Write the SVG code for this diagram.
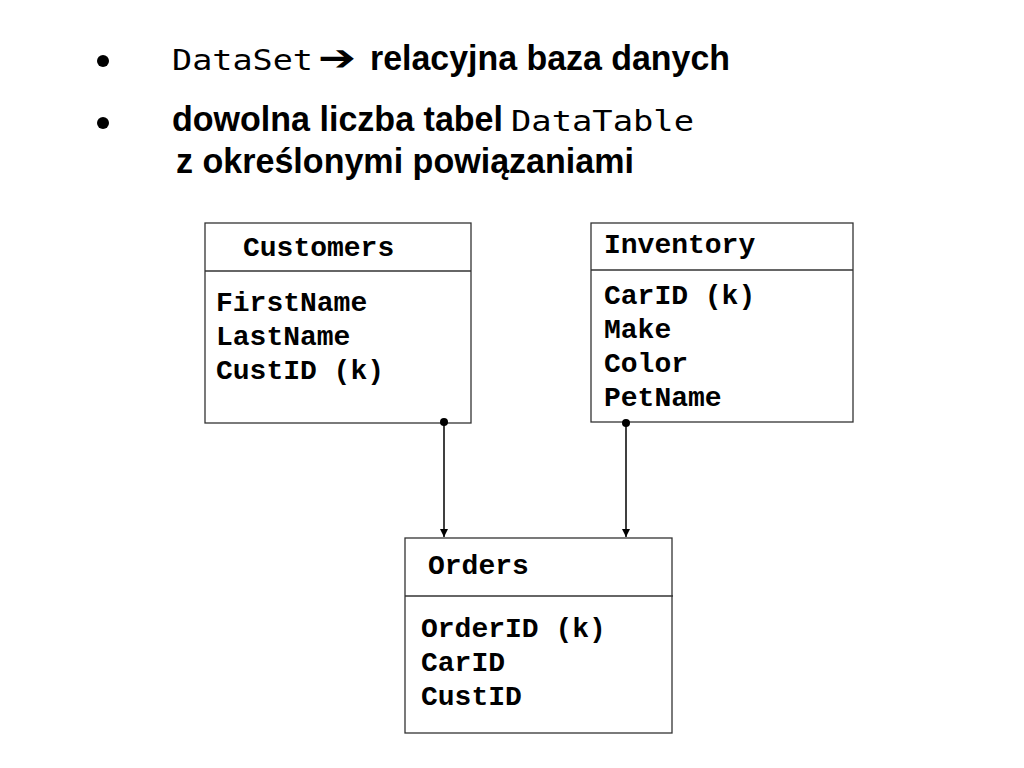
<svg xmlns="http://www.w3.org/2000/svg" width="1024" height="768" viewBox="0 0 1024 768">
<style>
.box{fill:#fff;stroke:#333;stroke-width:1.3}
.div{stroke:#333;stroke-width:1.3}
.f{font-family:"Liberation Mono","Courier New",monospace;font-weight:bold;font-size:28px;fill:#000}
.s{font-family:"Liberation Sans Narrow","Liberation Sans",Arial,sans-serif;font-weight:bold;font-size:35px;fill:#000}
.m{font-family:"DejaVu Sans Mono","Liberation Mono",monospace;font-size:28px;fill:#000}
.con{stroke:#000;stroke-width:1.5;fill:none;marker-start:url(#dot);marker-end:url(#arr)}
</style>
<defs>
<marker id="arr" viewBox="0 0 10 10" refX="10" refY="5" markerWidth="8" markerHeight="8" markerUnits="userSpaceOnUse" orient="auto"><path d="M0,0 L10,5 L0,10 z" fill="#000"/></marker>
<marker id="dot" viewBox="0 0 10 10" refX="5" refY="5" markerWidth="8" markerHeight="8" markerUnits="userSpaceOnUse"><circle cx="5" cy="5" r="5" fill="#000"/></marker>
</defs>
<rect width="1024" height="768" fill="#fff"/>
<g id="title">
<circle cx="103" cy="61" r="6" fill="#000"/>
<text class="m" x="172" y="70" textLength="141" lengthAdjust="spacingAndGlyphs">DataSet</text>
<text x="318" y="70" font-family="DejaVu Sans,sans-serif" font-weight="bold" font-size="36" textLength="38" lengthAdjust="spacingAndGlyphs">➔</text>
<text class="s" x="370" y="70" textLength="360" lengthAdjust="spacingAndGlyphs">relacyjna baza danych</text>
<circle cx="103" cy="123" r="6" fill="#000"/>
<text class="s" x="172" y="131" textLength="331" lengthAdjust="spacingAndGlyphs">dowolna liczba tabel</text>
<text class="m" x="511" y="131" textLength="183" lengthAdjust="spacingAndGlyphs">DataTable</text>
<text class="s" x="176" y="173" textLength="458" lengthAdjust="spacingAndGlyphs">z określonymi powiązaniami</text>
</g>
<g id="customers">
<rect class="box" x="205" y="223" width="266" height="200"/>
<line class="div" x1="205" y1="271" x2="471" y2="271"/>
<text class="f" x="243" y="256">Customers</text>
<text class="f" x="216" y="311">FirstName</text>
<text class="f" x="216" y="345">LastName</text>
<text class="f" x="216" y="379">CustID (k)</text>
</g>
<g id="inventory">
<rect class="box" x="591" y="223" width="262" height="199"/>
<line class="div" x1="591" y1="270" x2="853" y2="270"/>
<text class="f" x="604" y="253">Inventory</text>
<text class="f" x="604" y="304">CarID (k)</text>
<text class="f" x="604" y="338">Make</text>
<text class="f" x="604" y="372">Color</text>
<text class="f" x="604" y="406">PetName</text>
</g>
<g id="orders">
<rect class="box" x="405" y="538" width="267" height="195"/>
<line class="div" x1="405" y1="596" x2="673" y2="596"/>
<text class="f" x="428" y="574">Orders</text>
<text class="f" x="421" y="637">OrderID (k)</text>
<text class="f" x="421" y="671">CarID</text>
<text class="f" x="421" y="705">CustID</text>
</g>
<g id="connectors">
<line class="con" x1="444" y1="422" x2="444" y2="537"/>
<line class="con" x1="626" y1="423" x2="626" y2="537"/>
</g>
</svg>
